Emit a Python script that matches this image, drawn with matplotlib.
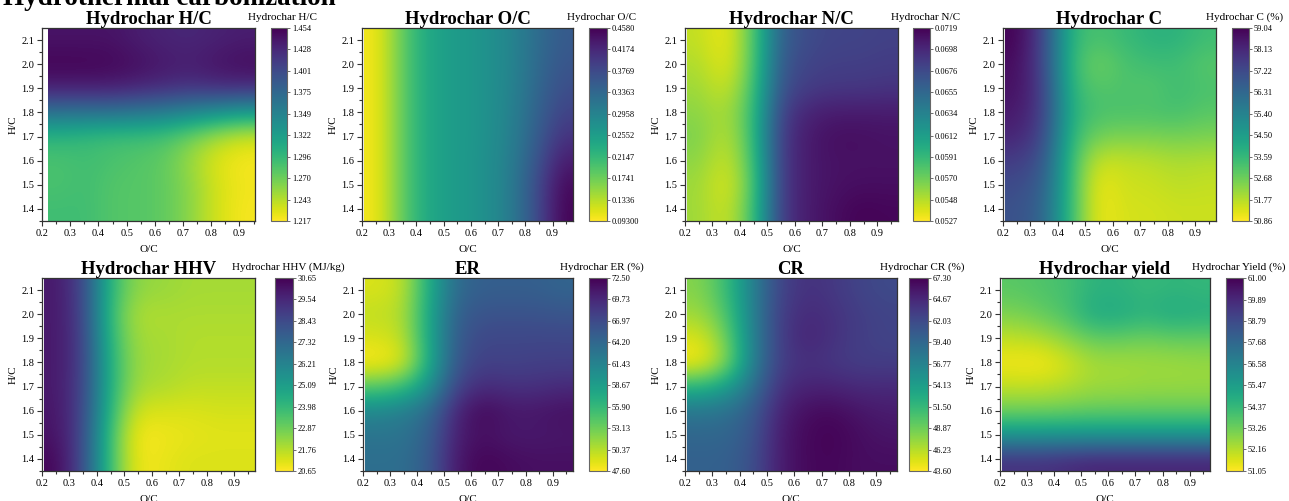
import matplotlib
matplotlib.use("Agg")
import matplotlib.pyplot as plt
import numpy as np

plt.rcParams['font.family'] = ['Liberation Serif', 'DejaVu Serif']

W, H = 1289, 501

# grid rows: H/C = 1.4 ... 2.1 (bottom to top), 8 columns across O/C
hc_rows = [1.4, 1.5, 1.6, 1.7, 1.8, 1.9, 2.0, 2.1]

hc_grid = [
    [1.290, 1.290, 1.280, 1.280, 1.275, 1.258, 1.232, 1.220],
    [1.285, 1.290, 1.280, 1.280, 1.275, 1.258, 1.232, 1.222],
    [1.285, 1.290, 1.285, 1.280, 1.275, 1.252, 1.228, 1.220],
    [1.300, 1.295, 1.290, 1.290, 1.285, 1.268, 1.248, 1.235],
    [1.365, 1.365, 1.365, 1.360, 1.355, 1.345, 1.335, 1.325],
    [1.435, 1.435, 1.435, 1.430, 1.425, 1.420, 1.425, 1.425],
    [1.452, 1.452, 1.450, 1.445, 1.438, 1.435, 1.442, 1.447],
    [1.442, 1.442, 1.442, 1.435, 1.430, 1.428, 1.432, 1.435],
]
oc_grid = [
    [0.098, 0.185, 0.245, 0.258, 0.272, 0.300, 0.365, 0.455],
    [0.098, 0.185, 0.245, 0.258, 0.272, 0.300, 0.365, 0.450],
    [0.098, 0.185, 0.245, 0.258, 0.272, 0.298, 0.355, 0.430],
    [0.098, 0.185, 0.245, 0.258, 0.270, 0.295, 0.345, 0.405],
    [0.098, 0.185, 0.245, 0.258, 0.270, 0.292, 0.338, 0.385],
    [0.098, 0.185, 0.245, 0.258, 0.270, 0.290, 0.332, 0.372],
    [0.098, 0.185, 0.245, 0.258, 0.270, 0.288, 0.328, 0.362],
    [0.098, 0.185, 0.245, 0.258, 0.270, 0.288, 0.325, 0.355],
]
nc_grid = [
    [0.0555, 0.0540, 0.0580, 0.0685, 0.0705, 0.0712, 0.0718, 0.0716],
    [0.0555, 0.0535, 0.0575, 0.0685, 0.0705, 0.0710, 0.0712, 0.0712],
    [0.0560, 0.0540, 0.0580, 0.0685, 0.0705, 0.0710, 0.0710, 0.0710],
    [0.0565, 0.0545, 0.0585, 0.0685, 0.0705, 0.0712, 0.0712, 0.0710],
    [0.0560, 0.0550, 0.0585, 0.0680, 0.0700, 0.0705, 0.0705, 0.0705],
    [0.0555, 0.0540, 0.0580, 0.0670, 0.0685, 0.0688, 0.0688, 0.0690],
    [0.0550, 0.0532, 0.0575, 0.0665, 0.0680, 0.0683, 0.0683, 0.0685],
    [0.0545, 0.0530, 0.0575, 0.0660, 0.0675, 0.0680, 0.0680, 0.0682],
]
c_grid = [
    [57.0, 56.4, 53.4, 51.0, 51.4, 51.4, 51.5, 51.5],
    [57.2, 56.6, 53.4, 51.0, 51.5, 51.5, 51.7, 51.6],
    [57.6, 56.9, 53.4, 51.5, 51.6, 51.7, 51.9, 51.8],
    [58.2, 57.3, 53.6, 52.6, 52.5, 52.5, 52.6, 52.5],
    [58.5, 57.5, 53.8, 53.2, 53.2, 53.2, 53.3, 53.0],
    [58.7, 57.5, 53.6, 53.0, 53.2, 53.0, 53.4, 53.2],
    [58.8, 57.3, 53.5, 52.6, 53.2, 53.4, 53.4, 53.0],
    [59.0, 57.3, 53.6, 53.2, 53.5, 53.8, 53.8, 53.4],
]
hhv_grid = [
    [30.5, 28.4, 23.6, 20.8, 21.0, 21.2, 21.2, 21.2],
    [30.2, 28.5, 23.6, 20.7, 20.9, 21.0, 21.1, 21.1],
    [30.1, 28.6, 24.0, 21.3, 21.2, 21.2, 21.3, 21.3],
    [30.0, 28.7, 24.2, 22.0, 21.9, 21.6, 21.6, 21.6],
    [30.0, 28.8, 24.2, 22.1, 22.0, 21.8, 21.8, 21.8],
    [30.0, 28.8, 24.0, 22.0, 22.0, 21.8, 21.8, 21.8],
    [30.0, 28.7, 23.8, 21.8, 21.9, 21.9, 21.9, 21.9],
    [30.0, 28.6, 24.0, 22.3, 22.2, 22.0, 22.0, 22.0],
]
er_grid = [
    [63.5, 63.5, 65.5, 71.0, 72.3, 71.8, 71.5, 71.5],
    [63.0, 63.0, 65.0, 70.5, 71.5, 70.8, 70.8, 71.0],
    [61.0, 62.0, 64.0, 70.0, 72.2, 71.0, 71.0, 71.5],
    [54.0, 55.5, 60.0, 67.5, 69.5, 69.0, 69.0, 69.5],
    [47.6, 48.8, 57.5, 66.0, 67.8, 67.5, 67.8, 67.8],
    [49.0, 50.0, 58.0, 65.5, 67.2, 67.2, 67.2, 67.2],
    [50.0, 50.5, 58.0, 65.0, 66.2, 66.2, 66.2, 66.0],
    [49.0, 50.0, 57.5, 64.0, 65.0, 65.0, 65.0, 64.5],
]
cr_grid = [
    [60.0, 60.0, 61.5, 65.5, 66.8, 67.0, 66.5, 66.5],
    [59.5, 59.5, 61.0, 65.5, 66.8, 67.2, 66.5, 66.0],
    [58.0, 58.5, 60.5, 65.0, 66.5, 66.8, 66.0, 65.5],
    [52.0, 54.0, 58.5, 64.0, 65.0, 65.0, 64.5, 64.5],
    [43.8, 47.5, 57.0, 63.0, 64.0, 63.5, 63.0, 63.0],
    [44.8, 48.5, 57.0, 63.0, 65.0, 64.0, 63.0, 62.5],
    [47.0, 50.0, 57.0, 63.0, 64.5, 64.0, 63.0, 62.5],
    [48.0, 51.0, 57.0, 62.5, 64.0, 63.5, 62.5, 62.0],
]
yield_grid = [
    [59.6, 59.6, 59.8, 60.0, 60.0, 60.0, 60.0, 60.0],
    [55.8, 55.8, 55.8, 55.8, 55.8, 55.8, 55.8, 55.8],
    [53.2, 53.2, 53.3, 53.4, 53.4, 53.4, 53.4, 53.4],
    [52.0, 52.0, 52.2, 52.5, 52.5, 52.6, 52.6, 52.6],
    [51.2, 51.1, 51.7, 52.4, 52.4, 52.5, 52.5, 52.6],
    [52.0, 52.2, 52.8, 53.4, 53.4, 53.2, 53.4, 53.4],
    [53.0, 53.4, 53.9, 55.0, 55.0, 54.6, 55.0, 54.8],
    [53.6, 53.8, 54.0, 54.6, 54.6, 54.3, 54.5, 54.4],
]

titles = ["Hydrochar H/C", "Hydrochar O/C", "Hydrochar N/C", "Hydrochar C",
          "Hydrochar HHV", "ER", "CR", "Hydrochar yield"]
cbar_labels = ["Hydrochar H/C", "Hydrochar O/C", "Hydrochar N/C", "Hydrochar C (%)",
               "Hydrochar HHV (MJ/kg)", "Hydrochar ER (%)", "Hydrochar CR (%)",
               "Hydrochar Yield (%)"]
grids = [hc_grid, oc_grid, nc_grid, c_grid, hhv_grid, er_grid, cr_grid, yield_grid]
cbar_ticks = [
    ["1.217", "1.243", "1.270", "1.296", "1.322", "1.349", "1.375", "1.401", "1.428", "1.454"],
    ["0.09300", "0.1336", "0.1741", "0.2147", "0.2552", "0.2958", "0.3363", "0.3769", "0.4174", "0.4580"],
    ["0.0527", "0.0548", "0.0570", "0.0591", "0.0612", "0.0634", "0.0655", "0.0676", "0.0698", "0.0719"],
    ["50.86", "51.77", "52.68", "53.59", "54.50", "55.40", "56.31", "57.22", "58.13", "59.04"],
    ["20.65", "21.76", "22.87", "23.98", "25.09", "26.21", "27.32", "28.43", "29.54", "30.65"],
    ["47.60", "50.37", "53.13", "55.90", "58.67", "61.43", "64.20", "66.97", "69.73", "72.50"],
    ["43.60", "46.23", "48.87", "51.50", "54.13", "56.77", "59.40", "62.03", "64.67", "67.30"],
    ["51.05", "52.16", "53.26", "54.37", "55.47", "56.58", "57.68", "58.79", "59.89", "61.00"],
]
# O/C span covered by each map, and axis upper limit
oc_span = [(0.22, 0.955), (0.206, 0.975), (0.206, 0.975), (0.206, 0.975),
           (0.206, 0.975), (0.206, 0.975), (0.206, 0.975), (0.206, 0.975)]
oc_max = [0.955, 0.975, 0.975, 0.975, 0.975, 0.975, 0.975, 0.975]

# pixel boxes: axes (left, right), colorbar (left, right)
ax_px = [(42, 255), (362, 573), (685, 898), (1003, 1216),
         (42, 255), (363, 573), (685, 897), (1000, 1210)]
cb_px = [(271, 287), (589, 607), (913, 930), (1232, 1249),
         (275, 293), (589, 607), (909, 928), (1226, 1243)]
row_px = [(28, 221), (278, 471)]

fig = plt.figure(figsize=(W / 100, H / 100), dpi=100)

for i in range(8):
    top, bot = row_px[i // 4]
    l, r = ax_px[i]
    ax = fig.add_axes([l / W, 1 - bot / H, (r - l) / W, (bot - top) / H])
    cl, cr = cb_px[i]
    cax = fig.add_axes([cl / W, 1 - bot / H, (cr - cl) / W, (bot - top) / H])

    labels = cbar_ticks[i]
    vmin, vmax = float(labels[0]), float(labels[-1])
    im = ax.imshow(np.array(grids[i]), origin='lower', aspect='auto',
                   extent=(oc_span[i][0], oc_span[i][1], 1.35, 2.15),
                   cmap='viridis_r', vmin=vmin, vmax=vmax,
                   interpolation='bicubic')
    ax.set_xlim(0.2, oc_max[i])
    ax.set_ylim(1.35, 2.15)
    ax.set_xticks(np.arange(0.2, 0.95, 0.1))
    ax.set_xticks(np.arange(0.25, oc_max[i], 0.1), minor=True)
    ax.set_yticks(np.arange(1.4, 2.15, 0.1))
    ax.set_yticks(np.arange(1.35, 2.15, 0.05), minor=True)
    ax.xaxis.set_major_formatter(plt.FormatStrFormatter('%.1f'))
    ax.yaxis.set_major_formatter(plt.FormatStrFormatter('%.1f'))
    ax.tick_params(which='both', direction='out', top=False, right=False,
                   labelsize=7.5, color='#333333', width=0.8)
    ax.tick_params(which='major', length=3.5, pad=2)
    ax.tick_params(which='minor', length=2)
    for s in ax.spines.values():
        s.set_color('#333333')
        s.set_linewidth(0.9)
    ax.set_xlabel("O/C", fontsize=8, labelpad=5)
    ax.set_ylabel("H/C", fontsize=8, labelpad=3)
    ax.set_title(titles[i], fontsize=13.5, fontweight='bold', pad=3)

    cb = fig.colorbar(im, cax=cax)
    cb.set_ticks([float(t) for t in labels])
    cb.set_ticklabels(labels)
    cb.ax.tick_params(labelsize=6, length=2, width=0.6, pad=1.5, color='#555555')
    cb.outline.set_edgecolor('#666666')
    cb.outline.set_linewidth(0.8)
    fig.text((cl + cr) / 2 / W + 4 / W, 1 - (top - 11) / H, cbar_labels[i],
             ha='center', va='center', fontsize=8)

fig.text(0.002, 1 - 5 / H, "Hydrothermal carbonization", ha='left',
         va='baseline', fontsize=19.5, fontweight='bold')

fig.savefig("out.png", dpi=100)
